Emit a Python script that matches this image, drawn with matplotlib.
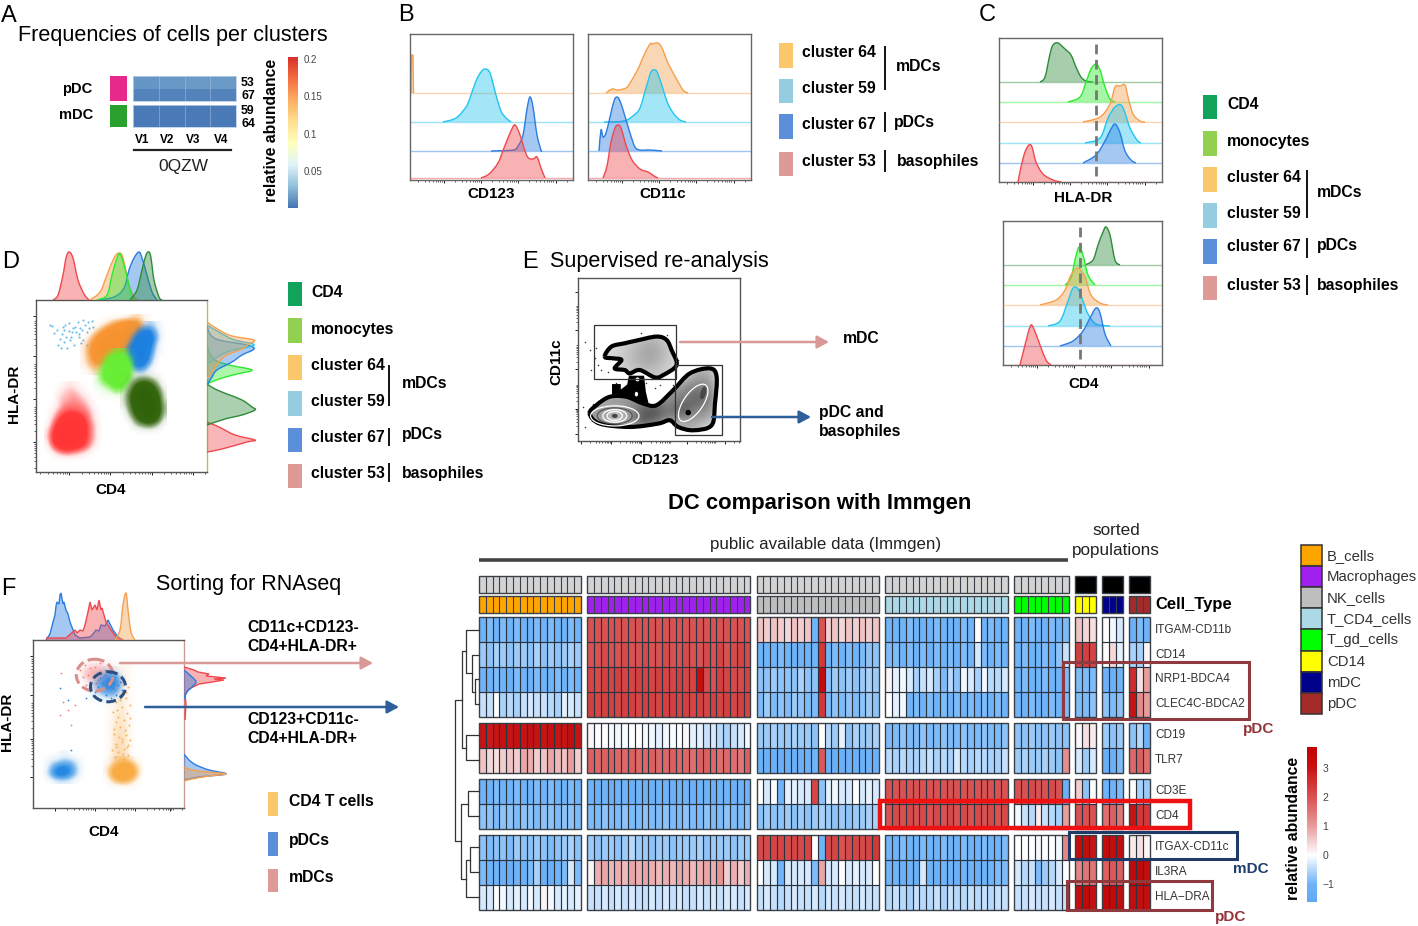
import numpy as np
import matplotlib
matplotlib.use("Agg")
import matplotlib.pyplot as plt
from matplotlib.colors import LinearSegmentedColormap, Normalize, to_rgba
from matplotlib.cm import ScalarMappable
from matplotlib.patches import Ellipse, Polygon, Rectangle, PathPatch
from matplotlib.path import Path

plt.rcParams['font.family'] = ['Liberation Sans', 'DejaVu Sans']
W, H = 1418, 926
fig = plt.figure(figsize=(W / 100, H / 100), dpi=100)

# ---------- Panel A data
a_rows = ['53', '67', '59', '64']
a_cols = ['V1', 'V2', 'V3', 'V4']
a_pdc = [[0.013, 0.014, 0.015, 0.015], [0.006, 0.006, 0.006, 0.006]]
a_mdc = [[0.003, 0.003, 0.003, 0.003], [0.002, 0.002, 0.002, 0.002]]

# ---------- Histograms (x, height)
o1x = [1, 1.5, 3, 3.5]; o1h = [0, 38, 38, 0]
lb1x = [33, 46, 56, 60, 66, 71, 75, 80, 86, 91, 96, 101]; lb1h = [0, 4, 15, 24, 41, 50, 53, 49, 27, 11, 4, 0]
bl1x = [81, 103, 108, 113, 117, 120, 123, 127, 131, 132]; bl1h = [0, 1, 5, 16, 42, 54, 44, 16, 1, 0]
rd1x = [71, 79, 88, 94, 101, 105, 110, 117, 123, 127, 131, 135]; rd1h = [0, 4, 15, 30, 47, 53, 43, 22, 19, 21, 10, 0]

o2x = [18, 24, 30, 38, 42, 50, 56, 62, 64, 70, 74, 80, 88, 95, 100]; o2h = [0, 4, 3, 5, 10, 24, 38, 49, 49, 50, 45, 30, 15, 3, 0]
lb2x = [16, 36, 46, 52, 58, 63, 67, 70, 75, 80, 86, 92, 98]; lb2h = [0, 1, 7, 14, 34, 50, 52, 48, 33, 18, 8, 2, 0]
bl2x = [11, 13, 15, 18, 22, 26, 29, 32, 36, 42, 47, 52, 62, 74]; bl2h = [0, 21, 14, 18, 34, 50, 54, 50, 38, 18, 4, 1, 1, 0]
rd2x = [15, 19, 23, 27, 30, 33, 38, 44, 52, 60, 66, 70]; rd2h = [0, 12, 36, 50, 53, 50, 33, 18, 9, 6, 2, 0]

cdg1x = [41, 46, 51, 54, 59, 66, 72, 77, 82, 87, 94]; cdg1h = [0, 5, 28, 37, 39, 33, 27, 15, 5, 1, 0]
cg1x = [69, 81, 87, 92, 97, 101, 106, 111, 116]; cg1h = [0, 5, 20, 33, 38, 32, 15, 3, 0]
co1x = [84, 101, 111, 116, 121, 126, 129, 134, 141, 146]; co1h = [0, 5, 18, 35, 36, 37, 25, 8, 1, 0]
clb1x = [86, 101, 109, 116, 122, 126, 131, 138, 142]; clb1h = [0, 5, 25, 36, 38, 30, 15, 3, 0]
cbl1x = [84, 97, 106, 111, 116, 121, 126, 132, 137]; cbl1h = [0, 8, 22, 32, 39, 30, 12, 3, 0]
crd1x = [19, 22, 26, 30, 33, 37, 44, 54, 62]; crd1h = [0, 15, 30, 37, 35, 20, 8, 2, 0]

cdg2x = [82, 90, 95, 100, 103, 107, 112, 117]; cdg2h = [0, 5, 20, 33, 38, 30, 5, 0]
cg2x = [62, 68, 72, 76, 80, 85, 92]; cg2h = [0, 7, 25, 38, 30, 10, 0]
co2x = [37, 53, 62, 68, 75, 82, 88, 97, 105]; co2h = [0, 5, 15, 30, 37, 28, 10, 2, 0]
clb2x = [45, 57, 65, 70, 75, 80, 85, 93, 107]; clb2h = [0, 5, 25, 38, 37, 25, 12, 2, 0]
cbl2x = [57, 70, 80, 87, 93, 97, 102, 108]; cbl2h = [0, 5, 15, 28, 38, 33, 12, 0]
crd2x = [17, 22, 27, 30, 37, 43, 48]; crd2h = [0, 20, 38, 38, 20, 5, 0]

# Panel D marginals
dt_rdx = [17, 22, 27, 30, 33, 37, 42, 48, 53]; dt_rdh = [0, 5, 25, 42, 48, 42, 20, 6, 0]
dt_ox = [54, 64, 71, 78, 83, 87, 93, 98, 103]; dt_oh = [0, 8, 25, 42, 47, 42, 15, 3, 0]
dt_gx = [61, 71, 76, 81, 84, 88, 93, 96, 99]; dt_gh = [0, 5, 25, 42, 46, 35, 15, 3, 0]
dt_bx = [61, 78, 88, 93, 98, 103, 106, 111, 116, 121]; dt_bh = [0, 3, 12, 30, 42, 48, 42, 25, 8, 0]
dt_dx = [94, 101, 106, 110, 113, 115, 118, 123, 126]; dt_dh = [0, 10, 30, 45, 48, 42, 20, 3, 0]
dr_ry = [20, 23, 30, 32, 37, 45, 50]; dr_rh = [0, 15, 40, 48, 28, 12, 0]
dr_dy = [47, 53, 57, 62, 65, 72, 78, 83, 88]; dr_dh = [0, 18, 35, 48, 45, 35, 20, 8, 0]
dr_gy = [88, 93, 98, 102, 107, 112, 120, 127]; dr_gh = [0, 12, 30, 45, 22, 8, 2, 0]
dr_by = [87, 95, 102, 110, 117, 123, 127, 132, 138, 147]; dr_bh = [0, 5, 10, 25, 35, 47, 40, 12, 3, 0]
dr_ly = [108, 120, 127, 133, 147]; dr_lh = [0, 20, 47, 25, 0]
dr_oy = [93, 110, 117, 123, 128, 132, 136, 142, 150]; dr_oh = [0, 12, 20, 35, 42, 47, 25, 12, 0]

# Panel F marginals
ft_bx = [13, 17, 18, 20, 22, 23, 24, 26, 27, 28, 30, 31, 33, 35, 37, 42, 47, 57, 60, 63, 66, 68, 72, 75, 78, 80, 85, 90]
ft_bh = [0, 6, 10, 18, 25, 34, 38, 36, 45, 47, 36, 38, 30, 26, 18, 5, 2, 3, 6, 10, 9, 15, 14, 20, 14, 10, 3, 0]
ft_rx = [13, 33, 42, 44, 47, 50, 52, 55, 57, 59, 62, 64, 66, 68, 69, 73, 78, 83, 90]
ft_rh = [2, 2, 10, 7, 10, 9, 15, 28, 38, 30, 35, 30, 40, 30, 32, 18, 10, 3, 0]
ft_ox = [82, 87, 90, 93, 95, 98, 102]; ft_oh = [0, 10, 35, 47, 30, 8, 0]
fr_ry = [88, 104, 114, 119, 124, 126, 128, 129, 130, 132, 134, 136, 138, 141]; fr_rh = [1, 2, 1, 5, 15, 28, 40, 30, 42, 22, 25, 14, 10, 0]
fr_by = [109, 116, 121, 126, 131, 138]; fr_bh = [0, 3, 8, 12, 8, 0]
fr_oy = [27, 29, 32, 34, 36, 38, 41]; fr_oh = [0, 8, 25, 42, 25, 8, 0]
fr_cy = [28, 31, 34, 38, 43, 48, 54]; fr_ch = [0, 15, 42, 25, 12, 5, 0]

# ---------- Density grids of the scatter clouds, read by eye (0 empty .. 10 solid)
d_red_xs, d_red_ys = (140, 300), (420, 640)
d_red = [[0, 0, 0, 1, 1, 0, 0, 0, 0], [0, 0, 1, 2, 2, 1, 0, 0, 0], [0, 0, 2, 2, 3, 2, 1, 0, 0], [0, 0, 2, 3, 3, 3, 2, 0, 0],
         [0, 1, 3, 5, 5, 4, 3, 1, 0], [0, 2, 6, 8, 8, 7, 4, 1, 0], [0, 4, 9, 10, 10, 9, 5, 2, 0], [1, 6, 10, 10, 10, 9, 5, 2, 0],
         [1, 7, 10, 10, 10, 9, 5, 2, 0], [0, 5, 9, 10, 9, 7, 4, 1, 0], [0, 1, 3, 4, 3, 2, 1, 0, 0], [0, 0, 0, 0, 0, 0, 0, 0, 0]]
d_dark_xs, d_dark_ys = (370, 490), (380, 560)
d_dark = [[0, 0, 0, 0, 0, 0, 0], [0, 1, 2, 3, 2, 1, 0], [0, 2, 6, 8, 7, 3, 0], [1, 4, 9, 10, 9, 6, 1], [1, 5, 10, 10, 10, 8, 1],
          [1, 4, 9, 10, 10, 9, 2], [0, 3, 8, 10, 10, 9, 2], [0, 1, 5, 9, 10, 7, 1], [0, 0, 2, 3, 4, 2, 0], [0, 0, 0, 0, 0, 0, 0]]
d_blue_xs, d_blue_ys = (370, 490), (240, 400)
d_blue = [[0, 0, 0, 1, 2, 1, 0], [0, 0, 2, 6, 6, 2, 0], [0, 1, 6, 10, 8, 3, 0], [0, 3, 9, 10, 7, 1, 0], [1, 6, 10, 10, 5, 1, 0],
          [1, 7, 10, 9, 4, 0, 0], [0, 3, 7, 6, 2, 0, 0], [0, 1, 2, 2, 0, 0, 0], [0, 0, 0, 0, 0, 0, 0]]
d_orange_xs, d_orange_ys = (250, 450), (220, 380)
d_orange = [[0, 0, 0, 0, 0, 0, 0, 1, 2, 1, 0], [0, 0, 0, 1, 3, 6, 8, 9, 7, 2, 0], [0, 0, 2, 5, 9, 10, 10, 10, 8, 2, 0],
            [0, 2, 6, 10, 10, 10, 10, 10, 6, 1, 0], [1, 4, 9, 10, 10, 10, 10, 8, 3, 0, 0], [1, 5, 10, 10, 10, 9, 7, 4, 1, 0, 0],
            [1, 4, 8, 9, 7, 4, 2, 1, 0, 0, 0], [1, 3, 5, 4, 2, 1, 0, 0, 0, 0, 0], [0, 1, 2, 1, 0, 0, 0, 0, 0, 0, 0]]
d_green_xs, d_green_ys = (290, 410), (320, 460)
d_green = [[0, 0, 1, 3, 3, 1, 0], [0, 1, 6, 9, 9, 3, 0], [0, 3, 9, 10, 10, 5, 0], [1, 5, 10, 10, 10, 5, 0], [1, 5, 9, 10, 10, 4, 0],
           [1, 2, 4, 8, 6, 1, 0], [0, 1, 1, 3, 2, 0, 0], [0, 0, 0, 0, 0, 0, 0]]
d_sparse_x = [155, 170, 185, 195, 205, 215, 225, 235, 245, 255, 265, 275, 160, 178, 192, 208, 222, 238, 250, 262, 172, 188, 200, 218, 232, 248, 268, 182, 196, 212, 228, 244, 190, 205, 240, 280, 150, 260]
d_sparse_y = [242, 255, 268, 240, 258, 262, 246, 268, 255, 240, 232, 228, 265, 283, 290, 285, 300, 275, 285, 262, 300, 245, 310, 250, 232, 225, 250, 310, 275, 275, 262, 295, 255, 235, 250, 245, 240, 300]

f_lowb_xs, f_lowb_ys = (130, 250), (550, 630)
f_lowb = [[0, 0, 0, 1, 0, 0, 0], [0, 1, 1, 2, 2, 1, 0], [0, 2, 5, 6, 5, 2, 0], [0, 3, 7, 8, 5, 2, 0], [0, 0, 1, 1, 1, 0, 0]]
f_lowo_xs, f_lowo_ys = (320, 420), (570, 650)
f_lowo = [[0, 1, 2, 2, 1, 0], [1, 3, 7, 9, 5, 1], [1, 7, 10, 10, 8, 1], [0, 3, 6, 6, 3, 0], [0, 0, 0, 0, 0, 0]]
f_topb_xs, f_topb_ys = (260, 380), (300, 400)
f_topb = [[0, 0, 0, 1, 1, 0, 0], [0, 0, 2, 4, 5, 2, 0], [0, 2, 4, 6, 7, 3, 0], [0, 1, 3, 5, 5, 2, 0], [0, 1, 1, 2, 2, 1, 0], [0, 0, 0, 0, 0, 0, 0]]
f_topr_xs, f_topr_ys = (220, 360), (280, 360)
f_topr = [[0, 0, 1, 1, 1, 1, 0, 0], [0, 1, 2, 3, 3, 2, 1, 0], [0, 1, 3, 3, 3, 3, 1, 0], [0, 0, 1, 2, 2, 2, 1, 0], [0, 0, 0, 1, 1, 0, 0, 0]]
f_col_xs, f_col_ys = (320, 400), (320, 560)
f_col = [[0, 0, 1, 1, 0], [0, 1, 2, 1, 0], [0, 2, 2, 2, 0], [0, 2, 3, 2, 0]]
f_orange_x = [352, 370, 345, 385, 360, 378, 350, 390, 368, 340, 382, 355, 372, 348, 388, 362, 376, 344, 380, 358, 392, 366, 350, 386, 374, 338, 356, 370, 384, 346, 364, 378, 352, 390, 342, 368, 382, 360, 348, 374]
f_orange_y = [330, 345, 360, 350, 375, 385, 395, 405, 410, 425, 430, 440, 450, 455, 465, 470, 480, 490, 495, 500, 510, 515, 520, 525, 535, 540, 545, 550, 555, 560, 335, 365, 420, 445, 475, 505, 530, 390, 530, 565]
f_red_x = [240, 255, 270, 285, 300, 315, 330, 345, 250, 265, 280, 295, 310, 325, 260, 275, 290, 305, 235, 350, 185, 180, 225, 205, 215, 190]
f_red_y = [300, 285, 295, 290, 280, 300, 295, 310, 320, 315, 325, 330, 320, 325, 345, 350, 340, 360, 335, 340, 310, 435, 405, 420, 465, 395]
f_blue_x = [270, 285, 300, 315, 330, 345, 360, 295, 310, 325, 340, 355, 280, 320, 335, 350, 305, 368, 260, 180, 205, 215]
f_blue_y = [345, 365, 325, 315, 310, 320, 335, 350, 340, 345, 355, 345, 375, 375, 385, 375, 390, 360, 385, 355, 390, 540]
f_gate_pink = (285, 315, 110, 95)
f_gate_navy = (325, 350, 105, 90)

e_sparse_x = [165, 180, 195, 205, 215, 185, 200, 225, 350, 375, 390, 335, 160, 175, 190, 260, 215, 235, 370, 410, 430, 445, 135, 165]
e_sparse_y = [215, 240, 265, 285, 300, 300, 235, 245, 340, 355, 345, 190, 410, 430, 400, 340, 390, 305, 195, 195, 345, 270, 470, 470]
e_low_xs, e_low_ys = (180, 580), (300, 480)
e_low = [[1, 1, 1, 1, 1, 1, 1, 1, .7, .7, 1], [1, 1, 1, 1, 1, 1, 1, .7, .6, .6, 1], [1, 1, 1, 1, 1, 1, .6, .55, .45, .5, 1],
         [1, .6, .5, .5, .6, .6, .55, .5, .35, .45, 1], [.6, .6, .8, .6, .35, .3, .5, .25, .55, .55, 1],
         [.6, .6, .8, .6, .3, .4, .6, .6, .65, .65, 1], [1, .7, .7, .7, .6, .7, 1, .7, .7, 1, 1]]
e_top_xs, e_top_ys = (240, 440), (200, 320)
e_top = [[.9, .85, .8, .75, .8, .9], [.85, .8, .7, .6, .7, .85], [.85, .8, .7, .65, .75, .85], [.85, .85, .8, .8, .8, .9]]

# ---------- Heatmap
hm_genes = ['ITGAM-CD11b', 'CD14', 'NRP1-BDCA4', 'CLEC4C-BDCA2', 'CD19', 'TLR7', 'CD3E', 'CD4', 'ITGAX-CD11c', 'IL3RA', 'HLA\u2212DRA']
hm_bcells = [
 [-1.0, -.9, -1.0, -.9, -1.0, -.9, -1.0, -1.0, -.9, -1.0, -.9, -1.0, -1.0, -.9, -1.0],
 [-.7, -.8, -.6, -.7, -.8, -.7, -.7, -.8, -.6, -.8, -.7, -.8, -.7, -.6, -.7],
 [-1.0, -1.0, -.9, -1.0, -1.1, -.9, -1.0, -1.0, -.9, -1.0, -1.0, -.9, -1.0, -.9, -1.0],
 [-.4, -.4, 0, -.6, -.5, -.6, -.4, -.3, -.4, -.4, -.5, -.6, -.2, -.3, -.4],
 [3.0, 2.9, 3.0, 3.1, 3.0, 3.1, 3.0, 3.1, 3.0, 3.0, 3.1, 3.0, 3.0, 3.2, 3.0],
 [.6, .4, .3, .5, .6, .5, .9, .8, .5, .6, .9, .7, .6, 1.0, .5],
 [-1.0, -1.0, -.9, -1.0, -1.0, -.9, -1.0, -1.0, -.9, -1.0, -.9, -1.0, -1.0, -.9, -1.0],
 [-.8, -.8, -.9, -.8, -.8, -.9, -.8, -.8, -.9, -.8, -.8, -.9, -.8, -.8, -.9],
 [-.8, -.9, -.8, -.8, -.9, -.7, -.8, -.8, -.7, -.8, -.9, -.8, -.7, -.6, -.8],
 [-.9, -1.0, -1.0, -1.1, -1.2, -1.0, -1.1, -.9, -.6, -1.1, -1.2, -1.0, -.9, -.3, -.9],
 [-.3, -.3, 0, -.1, -.3, -.2, -.3, -.1, -.3, .1, -.1, -.3, -.2, -.3, -.2],
]
hm_macro = [
 [2.0] * 24,
 [2.0, 2.0, 2.1, 2.0, 2.0, 2.1, 2.0, 2.0, 2.1, 2.0, 2.0, 2.1, 2.0, 2.0, 2.1, 2.0, 2.0, 2.1, 2.0, 2.2, 2.0, 2.1, 2.2, 2.1],
 [2.2, 2.1, 2.3, 2.2, 2.3, 2.2, 2.2, 2.3, 2.2, 2.2, 2.3, 2.2, 2.2, 2.3, 2.2, 2.2, 3.2, 2.1, 2.0, 2.3, 2.2, 2.1, 2.1, 2.2],
 [2.3, 2.2, 2.3, 2.3, 2.2, 2.3, 2.3, 2.2, 2.3, 2.3, 2.2, 2.3, 2.3, 2.2, 2.3, 2.2, 2.3, 2.2, 2.3, 2.2, 2.3, 2.2, 2.3, 2.2],
 [.1, 0, 0, .05, -.1, -.05, 0, 0, .05, -.1, -.2, -.1, -.05, 0, .05, -.2, -.2, -.4, -.3, -.5, -.6, -.4, -.3, -.1],
 [1.8, 1.7, 1.8, 1.8, 1.7, 1.7, 1.8, 1.7, 1.7, 1.8, 1.7, 1.7, 1.8, 1.7, 1.7, 1.6, 1.8, 1.8, 1.7, 1.6, 1.7, 1.6, 1.5, 1.8],
 [-1.0, -1.1, -1.0, -1.1, -1.0, -1.0, -1.1, -1.0, -1.0, -1.1, -1.0, -1.0, -1.1, -1.0, -1.0, -1.1, -1.0, -1.0, -1.1, -1.0, -1.0, -1.1, -1.0, -1.0],
 [-.9, -.9, -.8, -.9, -.9, -.8, -.9, -.9, -.8, -.9, -.9, -.8, -.9, -.9, -.8, -.9, -.9, -.8, -.9, -.9, -.8, -.9, -.9, -.8],
 [-.7, -.8, -.7, -.7, -.8, -.7, -.5, -.7, -.7, -.8, -.7, -.7, -.8, -.7, -.7, -.7, -.6, -.8, -.7, -.7, -.7, -.8, -.7, -.7],
 [.1, .8, .9, .7, .8, .7, .9, .8, .9, .8, .7, .8, .7, .9, .8, .7, .8, .9, .8, 1.1, .5, .8, .5, .8],
 [-.4, -.4, -.3, -.4, -.3, -.4, -.3, -.4, -.4, -.3, -.4, -.3, -.4, -.3, -.4, -.4, -.3, -.4, -.3, -.4, -.3, -.3, -.4, -.3],
]
hm_nk = [
 [.6, .5, .6, .5, .4, .6, .5, .6, -1.0, 2.0, .5, .6, .4, .6, .5, .6, .5, .6],
 [-1.0, -1.0, -1.0, -.9, -1.0, -1.0, -1.0, -1.0, -1.0, 2.4, -1.0, -.9, -1.0, -.9, -1.0, -.9, -.8, -.8],
 [-.8, -.8, -.7, -.8, -.8, -.8, -.6, -.8, -.8, 3.3, -.8, -.7, -.8, -.7, -.8, -.7, -.6, -.7],
 [-.9, -.7, -.9, -.8, -.9, -.7, -.8, -.9, -.9, 2.4, -.9, -.8, -.9, -.8, -.9, -.8, -.7, -.8],
 [-.7, -.7, -.6, -.7, -.7, -.6, -.7, -.7, -.8, 0, -.5, -.7, -.2, -.8, -.6, -.7, -.7, -.6],
 [-1.1, -1.1, -1.1, -1.2, -1.2, -1.1, -1.1, -1.1, -1.0, 1.9, -1.1, -1.2, -1.1, -1.1, -1.2, -1.1, -1.0, -1.1],
 [0, -.3, 0, -1.0, -.2, -.2, -.3, -.3, 2.2, -.8, -.2, -.1, -.3, -.3, 0, -.3, -.2, -.3],
 [-.8, -.7, -.8, -.8, -.7, -.8, -.7, -.8, -.7, -.6, -.7, -.8, -.7, -.8, -.7, -.7, -.6, -.6],
 [2.1, 2.1, 2.2, 2.2, 2.1, 2.2, 2.1, 2.2, 0, -1.0, 2.1, 2.2, 2.0, 2.1, 2.2, 2.1, 2.2, 2.4],
 [0, -.3, -.3, -1.0, -.3, -.3, -.3, -.3, -.9, .9, -.3, -.3, 0, -.3, -.2, -.3, -.3, 0],
 [-.4, -.3, -.4, -.5, -.4, -.3, -.4, -.4, -.3, -.5, -.3, -.4, -.3, -.4, -.4, -.3, -.4, -.4],
]
hm_tcd4 = [
 [-1.0, -1.0, -1.0, -.9, -1.0, -1.0, -1.0, -.9, -1.0, -1.0, -1.0, -.9, -1.0, 0, -1.0, -.9, -1.0, -1.0],
 [-.9, -.9, -1.0, -.9, -1.0, -.9, -1.0, -.9, -1.0, -.9, -1.0, -.9, -1.0, -.3, -.9, -1.0, -.9, -1.0],
 [.1, -.2, -.1, -.3, -.6, -.4, -.3, -.6, -.9, -.5, -.8, -.1, -.3, -.6, -.1, -.5, -.5, -.3],
 [0, -.2, -.1, -1.0, -.9, -1.0, -.9, -1.0, -.9, -1.0, -.9, -1.0, -.9, -1.0, -.9, -1.0, -.9, -1.0],
 [-.9, -.9, -.8, -.9, -.9, -.8, -.9, -.9, -.8, -.9, -.9, -.8, -.9, -.9, -.8, -.9, -.9, -.8],
 [-.5, -.6, -.5, -.6, -.6, -.5, -.4, -.6, -.5, -.6, -.3, -.5, -.6, -.5, -.5, -.6, -.6, -.4],
 [2.0] * 18,
 [2.0, 2.1, 2.0, 2.1, 2.0, 2.1, 2.0, 2.1, 2.0, 2.1, 2.0, 2.1, 2.0, 2.1, 2.0, 2.1, 2.0, 2.1],
 [-1.0, -1.0, -.9, -1.0, -1.0, -.9, -1.0, -1.0, -.9, -1.0, -1.0, -.9, -1.0, -1.0, -.9, -1.0, -1.0, -.9],
 [-1.0, -1.0, -1.1, -1.0, -1.1, -.3, -1.0, -1.1, -1.0, -1.0, -1.1, -1.0, -1.0, -1.1, -1.0, -1.0, -.9, -.9],
 [-.5, -.4, -.5, -.6, -.4, -.5, -.5, -.4, -.6, -.4, -.5, -.5, -.4, -.5, -.4, -.5, -.4, -.4],
]
hm_tgd = [
 [-1.0, -1.0, -.9, -1.0, -1.0, -.9, -1.0, -.9],
 [-1.0, -.9, -1.0, -1.0, -.9, -1.0, -.8, -.4],
 [-1.0, -.9, -1.0, -1.0, -.9, -1.0, -1.0, -.9],
 [-1.0, -1.0, -.9, -1.0, -1.0, -.9, -1.0, -.9],
 [-.8, -.8, -.7, -.8, -.8, -.7, -.8, -.8],
 [-.7, -.6, -.7, -.7, -.6, -.7, -.8, 1.2],
 [2.0, 2.0, 2.1, 2.0, 2.0, 2.1, 2.0, -1.1],
 [-.1, -.4, -.5, .2, -.4, -.5, -.6, 1.0],
 [0, 0, 0, -.1, 0, 0, -.1, 1.3],
 [-.3, -.5, -.4, -.9, -.7, -.5, -.3, 0],
 [-.4, -.4, -.3, -.4, -.4, -.3, -.4, -.4],
]
hm_cd14 = [[.6, .4, .3], [2.3, 2.3, 2.2], [-.9, -.9, -.9], [-.9, -.9, -.8], [.1, .3, .2], [-.3, -.7, -.3],
           [.5, -.8, 0], [2.0, 2.0, 2.0], [3.2, 3.2, 3.0], [1.3, 1.5, 1.5], [3.2, 3.4, 3.1]]
hm_mdc = [[0, -.1, -.3], [0, .4, -.2], [-1.1, -1.1, -1.0], [-.8, -.9, -.8], [-.7, -.8, -.7], [-1.2, -1.1, -.9],
          [-1.0, -1.0, -.9], [1.6, 1.8, 1.5], [3.3, 3.2, 3.2], [1.8, 1.9, 1.8], [3.4, 3.4, 3.3]]
hm_pdc = [[-1.1, -.9, -1.0], [-.6, -.6, .1], [2.6, .3, 1.0], [3.0, 1.2, 1.0], [-.8, -.5, -1.0], [1.7, 1.8, 1.6],
          [0, -.6, -.7], [3.0, 2.4, 2.4], [.2, .3, .1], [3.4, 3.4, 3.3], [3.3, 3.2, 3.2]]
hm_groups = [hm_bcells, hm_macro, hm_nk, hm_tcd4, hm_tgd, hm_cd14, hm_mdc, hm_pdc]
cell_types = ['B_cells', 'Macrophages', 'NK_cells', 'T_CD4_cells', 'T_gd_cells', 'CD14', 'mDC', 'pDC']

# ---------- Styles and layout (pixels)
C = dict(o='#f5a04e', lb='#22c4f0', b='#2a7de1', r='#f0484e', dk='#2e8b3a', g='#2eea2e')
cell_colors = ['#ffa500', '#a020f0', '#bebebe', '#add8e6', '#00ff00', '#ffff00', '#00008b', '#a52a2a']
group_x = [(479, 581), (587.3, 750.3), (756.7, 879), (885.3, 1007.7), (1014, 1068.7), (1075, 1095.7), (1102, 1123), (1129, 1150)]
block_y = [(617.3, 716.7), (722.7, 772.7), (779, 828.7), (835, 909.7)]
block_rows = [(0, 4), (4, 6), (6, 8), (8, 11)]
SW_O, SW_LB, SW_B, SW_R = '#fbc76b', '#93cddf', '#5b8fd9', '#de9a96'


def panel(x0, y0, x1, y1, xlim=None, ylim=None, edge='#666666'):
    ax = fig.add_axes([x0 / W, 1 - y1 / H, (x1 - x0) / W, (y1 - y0) / H])
    ax.set_xlim(xlim if xlim else (0, x1 - x0))
    ax.set_ylim(ylim if ylim else (0, y1 - y0))
    ax.set_xticks([]); ax.set_yticks([])
    for s in ax.spines.values():
        s.set_color(edge); s.set_linewidth(1.0)
    return ax


def log_ticks(ax, decades, axis='x'):
    major = list(decades)
    step = decades[1] - decades[0]
    minor = [d + np.log10(k) * step for d in decades[:-1] for k in range(2, 10)]
    a = ax.xaxis if axis == 'x' else ax.yaxis
    lo, hi = sorted(ax.get_xlim() if axis == 'x' else ax.get_ylim())
    a.set_ticks([v for v in major if lo <= v <= hi])
    a.set_ticks([v for v in minor if lo <= v <= hi], minor=True)
    ax.tick_params(axis=axis, which='major', length=2.5, width=.7, color='#222222', labelbottom=False, labelleft=False)
    ax.tick_params(axis=axis, which='minor', length=1.5, width=.5, color='#222222', labelbottom=False, labelleft=False)


def curve(pts, closed=False):
    pts = np.asarray(pts, float)
    n = len(pts)
    verts, codes = [pts[0]], [Path.MOVETO]
    for i in range(n if closed else n - 1):
        if closed:
            p0, p1, p2, p3 = pts[(i - 1) % n], pts[i], pts[(i + 1) % n], pts[(i + 2) % n]
        else:
            p0, p1, p2, p3 = pts[max(i - 1, 0)], pts[i], pts[i + 1], pts[min(i + 2, n - 1)]
        verts += [p1 + (p2 - p0) / 6, p2 - (p3 - p1) / 6, p2]
        codes += [Path.CURVE4] * 3
    return verts, codes


def ridge(ax, x, h, base, color, z, width=None, alpha=.42, smooth=True, vertical=False):
    pts = np.column_stack([x, np.array(h, float) + base])
    if width:
        ax.plot([0, width], [base, base], color=color, lw=1.0, alpha=.45, zorder=z)
    if smooth:
        v, c = curve(pts)
    else:
        v, c = list(pts), [Path.MOVETO] + [Path.LINETO] * (len(pts) - 1)
    v = np.array(v)
    if vertical:
        v = v[:, ::-1]
    close_a = (base, x[-1]) if vertical else (x[-1], base)
    close_b = (base, x[0]) if vertical else (x[0], base)
    vf = np.vstack([v, close_a, close_b, v[0]])
    cf = c + [Path.LINETO, Path.LINETO, Path.CLOSEPOLY]
    ax.add_patch(PathPatch(Path(vf, cf), fc=color, alpha=alpha, lw=0, zorder=z))
    ax.add_patch(PathPatch(Path(v, c), fc='none', ec=color, lw=1.0, zorder=z + .1))


def density(ax, grid, xs, ys, color, z, top=10, clip=None):
    g = np.array(grid, float)
    ny, nx = g.shape
    dx, dy = (xs[1] - xs[0]) / (nx - 1), (ys[1] - ys[0]) / (ny - 1)
    r, gg, b, _ = to_rgba(color)
    cm = LinearSegmentedColormap.from_list('d', [(0, (r, gg, b, 0)), (.12, (r, gg, b, .12)), (.3, (r, gg, b, .6)), (.55, (r, gg, b, .97)), (1, (r, gg, b, 1))])
    im = ax.imshow(g, extent=(xs[0] - dx / 2, xs[1] + dx / 2, ys[1] + dy / 2, ys[0] - dy / 2), origin='upper', cmap=cm,
                   vmin=0, vmax=top, interpolation='bicubic', aspect='auto', zorder=z)
    im.set_interpolation_stage('data')
    return im


# ---------- A: heatmap
cmA = LinearSegmentedColormap.from_list('a', ['#4575b4', '#91bfdb', '#e0f3f8', '#ffffbf', '#fee090', '#fdae61', '#f46d43', '#d73027'])
normA = Normalize(0, .2027)
for vals, y0, y1 in ((a_pdc, 76, 101), (a_mdc, 105, 127)):
    ax = panel(133, y0, 236, y1, xlim=(0, 4), ylim=(2, 0))
    ax.pcolormesh(np.array(vals), cmap=cmA, norm=normA, edgecolors='face', linewidth=0)
    ax.vlines([1, 2, 3], 0, 2, color='#a9c4e2', lw=.5, alpha=.7)
    for s in ax.spines.values():
        s.set_color('#b8cfe8'); s.set_linewidth(.6)
caxA = fig.add_axes([288 / W, 1 - 208 / H, 10 / W, 151 / H])
cbA = fig.colorbar(ScalarMappable(normA, cmA), cax=caxA, ticks=[.05, .1, .15, .2])
cbA.ax.set_yticklabels(['0.05', '0.1', '0.15', '0.2'], fontsize=7, color='#444444')
cbA.ax.tick_params(length=0, pad=4)
cbA.outline.set_visible(False)

# ---------- B
baseB = [87, 58, 29, 2]
axB1 = panel(410, 34, 573, 180)
for (x, h), b, c, z, s in zip([(o1x, o1h), (lb1x, lb1h), (bl1x, bl1h), (rd1x, rd1h)], baseB, ('o', 'lb', 'b', 'r'), (1, 2, 3, 4), (False, True, True, True)):
    ridge(axB1, x, h, b, C[c], z, 163, smooth=s)
log_ticks(axB1, [-3, 34, 71, 108, 146, 183])
axB2 = panel(588, 34, 751, 180)
for (x, h), b, c, z in zip([(o2x, o2h), (lb2x, lb2h), (bl2x, bl2h), (rd2x, rd2h)], baseB, ('o', 'lb', 'b', 'r'), (1, 2, 3, 4)):
    ridge(axB2, x, h, b, C[c], z, 163)
log_ticks(axB2, [-3, 34, 71, 108, 146, 183])

# ---------- C
baseC = [100, 80, 60, 39, 19, 0]
c_cols = ('dk', 'g', 'o', 'lb', 'b', 'r')
axC1 = panel(999, 38, 1162, 182)
for (x, h), b, c, z in zip([(cdg1x, cdg1h), (cg1x, cg1h), (co1x, co1h), (clb1x, clb1h), (cbl1x, cbl1h), (crd1x, crd1h)], baseC, c_cols, range(1, 7)):
    ridge(axC1, x, h, b, C[c], z, 163)
axC1.axvline(97, ymin=.04, color='#777777', lw=2, ls=(0, (3.5, 2)), zorder=8)
log_ticks(axC1, [-3, 34, 71, 108, 146, 183])
axC2 = panel(1003, 221, 1162, 365)
for (x, h), b, c, z in zip([(cdg2x, cdg2h), (cg2x, cg2h), (co2x, co2h), (clb2x, clb2h), (cbl2x, cbl2h), (crd2x, crd2h)], baseC, c_cols, range(1, 7)):
    ridge(axC2, x, h, b, C[c], z, 159)
axC2.axvline(77, ymin=.04, color='#777777', lw=2, ls=(0, (3.5, 2)), zorder=8)
log_ticks(axC2, [-3, 34, 71, 108, 146])

# ---------- D
D_LIM = ((107, 622), (680, 165))
axD = panel(36, 300, 207, 472, xlim=D_LIM[0], ylim=D_LIM[1], edge='#555555')
axD.spines['right'].set_color('#99cc66')
axD.scatter(d_sparse_x, d_sparse_y, s=2.4, color='#6dbcec', lw=0, zorder=1)
density(axD, d_orange, d_orange_xs, d_orange_ys, '#f7932e', 2)
density(axD, d_blue, d_blue_xs, d_blue_ys, '#1a7fe0', 3)
density(axD, d_green, d_green_xs, d_green_ys, '#66ee33', 4)
density(axD, d_dark, d_dark_xs, d_dark_ys, '#2f6208', 5)
density(axD, d_red, d_red_xs, d_red_ys, '#ff3333', 6)
axD.set_xlim(*D_LIM[0]); axD.set_ylim(*D_LIM[1])
log_ticks(axD, [83, 207, 331, 455, 579, 703])
log_ticks(axD, [700, 590, 462, 334, 213], axis='y')
axDt = panel(36, 248, 207, 300, ylim=(0, 52))
axDt.axis('off')
for x, h, c, z in ((dt_rdx, dt_rdh, 'r', 1), (dt_ox, dt_oh, 'o', 2), (dt_bx, dt_bh, 'b', 3), (dt_gx, dt_gh, 'g', 4), (dt_dx, dt_dh, 'dk', 5)):
    ridge(axDt, x, h, 0, C[c], z)
axDr = panel(207, 300, 257, 472, xlim=(0, 50))
axDr.axis('off')
for y, h, c, z in ((dr_ry, dr_rh, 'r', 1), (dr_dy, dr_dh, 'dk', 2), (dr_gy, dr_gh, 'g', 3), (dr_by, dr_bh, 'b', 4), (dr_ly, dr_lh, 'lb', 5), (dr_oy, dr_oh, 'o', 6)):
    ridge(axDr, y, h, 0, C[c], z, vertical=True, alpha=.4)

# ---------- E
E_LIM = ((145, 630), (512, 25))
axE = panel(578, 278, 740, 441, xlim=E_LIM[0], ylim=E_LIM[1], edge='#555555')
axE.scatter(e_sparse_x, e_sparse_y, s=1.2, color='#333333', lw=0, zorder=1)
e_top_poly = [(225, 260), (245, 230), (285, 220), (320, 212), (380, 200), (410, 210), (425, 240), (440, 285), (400, 315), (375, 322), (330, 300), (300, 310), (285, 300), (255, 295), (275, 270), (250, 265)]
e_low_poly = [(180, 430), (200, 405), (240, 380), (290, 380), (340, 400), (380, 405), (430, 360), (480, 310), (540, 295), (560, 320), (555, 400), (545, 465), (490, 480), (445, 470), (420, 450), (385, 460), (300, 470), (210, 460)]
e_bridge = [(250, 345), (270, 345), (270, 365), (295, 345), (300, 320), (340, 320), (345, 365), (352, 395), (310, 385), (250, 375)]
axE.add_patch(Polygon(e_bridge, fc='black', ec='black', lw=1.5, zorder=2))
for el in ((323, 328, 12, 12), (320, 372, 10, 14)):
    axE.add_patch(Ellipse(el[:2], el[2], el[3], fc='white', lw=0, zorder=3))
for poly, grid, xs, ys in ((e_top_poly, e_top, e_top_xs, e_top_ys), (e_low_poly, e_low, e_low_xs, e_low_ys)):
    v, c = curve(poly, closed=True)
    fillp = PathPatch(Path(v, c), fc='white', ec='none', zorder=3)
    axE.add_patch(fillp)
    g = np.array(grid)
    ny, nx = g.shape
    dx, dy = (xs[1] - xs[0]) / (nx - 1), (ys[1] - ys[0]) / (ny - 1)
    im = axE.imshow(g, extent=(xs[0] - dx / 2, xs[1] + dx / 2, ys[1] + dy / 2, ys[0] - dy / 2), origin='upper', cmap='gray', vmin=0, vmax=1,
                    interpolation='bicubic', aspect='auto', zorder=4)
    im.set_clip_path(fillp)
    axE.add_patch(PathPatch(Path(v, c), fc='none', ec='black', lw=3, zorder=5))
axE.set_xlim(*E_LIM[0]); axE.set_ylim(*E_LIM[1])
log_ticks(axE, [155, 245, 335, 470, 585, 700])
log_ticks(axE, [490, 415, 298, 180, 68], axis='y')
e_rings = [((255, 437, 145, 60, 0), 'white'), ((255, 437, 105, 48, 0), '#555555'), ((255, 437, 72, 38, 0), 'white'), ((255, 437, 46, 27, 0), 'white'),
           ((490, 398, 130, 58, -55), 'white')]
for (cx, cy, w, h, a), ec in e_rings:
    axE.add_patch(Ellipse((cx, cy), w, h, angle=a, fc='none', ec=ec, lw=.9, zorder=6))
axE.add_patch(Ellipse((255, 437), 18, 12, fc='#444444', lw=0, zorder=6))
axE.add_patch(Ellipse((475, 427), 8, 8, fc='white', ec='black', lw=2, zorder=6))
axE.add_patch(Ellipse((520, 368), 16, 40, angle=15, fc='#333333', lw=0, zorder=6, alpha=.7))
axE.add_patch(Rectangle((192, 165), 245, 163, fc='none', ec='#333333', lw=.9, zorder=7))
axE.add_patch(Rectangle((435, 285), 140, 209, fc='none', ec='#333333', lw=.9, zorder=7))

# ---------- F
F_LIM = ((100, 553), (713, 210))
axF = panel(33, 640, 184, 808, xlim=F_LIM[0], ylim=F_LIM[1], edge='#555555')
axF.spines['right'].set_color('#cc9999')
axF.scatter(f_orange_x, f_orange_y, s=2.0, color='#f8b25c', lw=0, zorder=1)
density(axF, f_col, f_col_xs, f_col_ys, '#f8b25c', 1)
axF.scatter(f_red_x, f_red_y, s=1.6, color='#f47c7c', lw=0, zorder=2)
density(axF, f_topr, f_topr_xs, f_topr_ys, '#f47c7c', 2)
density(axF, f_topb, f_topb_xs, f_topb_ys, '#2a86e0', 3)
axF.scatter(f_blue_x, f_blue_y, s=1.6, color='#2a86e0', lw=0, zorder=3)
density(axF, f_lowb, f_lowb_xs, f_lowb_ys, '#1f86e3', 4)
density(axF, f_lowo, f_lowo_xs, f_lowo_ys, '#f9a93f', 4)
axF.set_xlim(*F_LIM[0]); axF.set_ylim(*F_LIM[1])
log_ticks(axF, [165, 285, 405, 510, 630])
log_ticks(axF, [620, 507, 375, 258], axis='y')
axF.add_patch(Ellipse(f_gate_pink[:2], f_gate_pink[2], f_gate_pink[3], fc='none', ec='#d68f8c', lw=2.2, ls=(0, (3.2, 1.5)), zorder=6))
axF.add_patch(Ellipse(f_gate_navy[:2], f_gate_navy[2], f_gate_navy[3], fc='none', ec='#2c4f80', lw=2.2, ls=(0, (3.2, 1.5)), zorder=7))
axFt = panel(33, 590, 184, 640, ylim=(0, 50))
axFt.axis('off')
for x, h, c, z, s in ((ft_bx, ft_bh, 'b', 1, False), (ft_rx, ft_rh, 'r', 2, False), (ft_ox, ft_oh, 'o', 3, True)):
    ridge(axFt, x, h, 0, C[c], z, smooth=s)
axFr = panel(184, 640, 229, 808, xlim=(0, 45))
axFr.axis('off')
for y, h, c, z, s in ((fr_by, fr_bh, 'b', 2, True), (fr_ry, fr_rh, 'r', 1, False), (fr_cy, fr_ch, 'b', 3, True), (fr_oy, fr_oh, 'o', 4, True)):
    ridge(axFr, y, h, 0, C[c], z, vertical=True, smooth=s)

# ---------- Overlay in pixels: heatmap, labels, legends, arrows
ov = fig.add_axes([0, 0, 1, 1], zorder=10)
ov.set_xlim(0, W); ov.set_ylim(H, 0); ov.axis('off'); ov.patch.set_alpha(0)


def T(x, y, s, size=11.3, weight='bold', ha='left', color='black', rot=0, **kw):
    ov.text(x, y, s, fontsize=size, fontweight=weight, ha=ha, va='center', color=color, rotation=rot, **kw)


def V(x, y0, y1, lw=1.3, color='black'):
    ov.plot([x, x], [y0, y1], color=color, lw=lw, solid_capstyle='butt')


def swatch(x, y0, y1, w, color):
    ov.add_patch(Rectangle((x, y0), w, y1 - y0, fc=color, ec='none'))


def arrow(x0, x1, y, color):
    ov.annotate('', xy=(x1, y), xytext=(x0, y), arrowprops=dict(arrowstyle='-|>,head_width=.38,head_length=.7', color=color, lw=1.8, shrinkA=0, shrinkB=0))


def box(x0, y0, x1, y1, color, lw):
    ov.add_patch(Rectangle((x0, y0), x1 - x0, y1 - y0, fc='none', ec=color, lw=lw, zorder=6))


cmH = LinearSegmentedColormap.from_list('h', [(0, '#5fa9f6'), (.115, '#6fb3f8'), (.30, '#ffffff'), (.49, '#e89c9c'), (.68, '#da5050'), (.87, '#c81212'), (1, '#c00000')])
normH = Normalize(-1.62, 3.72)
EDGE = '#2a3440'
for grp, (x0, x1), col, cellc in zip(hm_groups, group_x, range(8), cell_colors):
    n = len(grp[0])
    xe = np.linspace(x0, x1, n + 1)
    for (r0, r1), (y0, y1) in zip(block_rows, block_y):
        ye = np.linspace(y0, y1, r1 - r0 + 1)
        vals = np.array([row for row in grp[r0:r1]])
        ov.pcolormesh(xe, ye, vals, cmap=cmH, norm=normH, edgecolors='face', linewidth=0)
        ov.vlines(xe[1:-1], y0, y1, color=EDGE, lw=.85)
        ov.hlines(ye[1:-1], x0, x1, color=EDGE, lw=.85)
        ov.add_patch(Rectangle((x0, y0), x1 - x0, y1 - y0, fc='none', ec='#3a4046', lw=1.0))
    black = col >= 5
    top = '#000000' if black else '#d3d3d3'
    for (ya, yb), fc, lines in (((576, 593), top, not black), ((596, 613), cellc, True)):
        ov.add_patch(Rectangle((x0, ya), x1 - x0, yb - ya, fc=fc, ec='#3a4046', lw=1.0))
        if lines:
            ov.vlines(xe[1:-1], ya, yb, color='#3a4046', lw=.8)
yc = []
for (r0, r1), (y0, y1) in zip(block_rows, block_y):
    step = (y1 - y0) / (r1 - r0)
    yc += [y0 + step * (i + .5) for i in range(r1 - r0)]
for g, y in zip(hm_genes, yc):
    T(1155, y, g, size=8.5, weight='normal', color='#333333')


def U(x, y0, y1, x0end, x1end):
    ov.plot([x0end, x, x, x1end], [y0, y0, y1, y1], color='#333333', lw=.9)
    return (y0 + y1) / 2


n23 = U(475, yc[2], yc[3], 479, 479)
n123 = U(472, yc[1], n23, 479, 475)
n0123 = U(466, yc[0], n123, 479, 472)
n45 = U(466, yc[4], yc[5], 479, 479)
n5 = U(462, n0123, n45, 466, 466)
n67 = U(468, yc[6], yc[7], 479, 479)
n89 = U(470, yc[8], yc[9], 479, 479)
n810 = U(466, n89, yc[10], 470, 479)
n610 = U(461, n67, n810, 468, 466)
U(455, n5, n610, 462, 461)

box(1063, 662, 1249, 719, '#8f3a3f', 2.2)
box(880, 801, 1190, 828, '#ee1111', 3.2)
box(1069, 832, 1237, 859, '#1f3a66', 2.2)
box(1067, 881, 1212, 910, '#8f3a3f', 2.2)
T(1243, 729, 'pDC', size=11, color='#93343a')
T(1233, 869, 'mDC', size=11, color='#1f3f6e')
T(1215, 917, 'pDC', size=11, color='#93343a')
T(1155, 605, 'Cell_Type', size=12)
T(820, 503.5, 'DC comparison with Immgen', size=15.8, ha='center')
T(826, 545, 'public available data (Immgen)', size=12.2, weight='normal', ha='center', color='#222222')
T(1116, 530.5, 'sorted', size=12.3, weight='normal', ha='center', color='#222222')
T(1116, 551, 'populations', size=12.3, weight='normal', ha='center', color='#222222')
ov.plot([479, 1068], [560, 560], color='#444444', lw=2.6, solid_capstyle='butt')
for i, (name, c) in enumerate(zip(cell_types, cell_colors)):
    ov.add_patch(Rectangle((1301, 545 + 21.1 * i), 21.3, 21.1, fc=c, ec='#333333', lw=1.1))
    T(1327, 556 + 21.1 * i, name, size=10.7, weight='normal', color='#333333')
caxH = fig.add_axes([1307 / W, 1 - 902 / H, 10 / W, 155 / H], zorder=11)
cbH = fig.colorbar(ScalarMappable(normH, cmH), cax=caxH, ticks=[-1, 0, 1, 2, 3])
cbH.ax.set_yticklabels(['\u22121', '0', '1', '2', '3'], fontsize=7.5, color='#444444')
cbH.ax.tick_params(length=0, pad=4)
cbH.outline.set_visible(False)
T(1293, 828, 'relative abundance', size=11.3, ha='center', rot=90)

# panel letters and titles
for (x, y, s) in ((1, 16, 'A'), (398, 15, 'B'), (979, 15, 'C'), (2, 262, 'D'), (522, 262, 'E'), (1, 589, 'F')):
    T(x, y, s, size=17, weight='normal')
T(18, 35.5, 'Frequencies of cells per clusters', size=15.6, weight='normal')
T(550, 261.5, 'Supervised re-analysis', size=15.6, weight='normal')
T(156, 584.5, 'Sorting for RNAseq', size=15.5, weight='normal')

# A labels
swatch(110, 76, 101, 17, '#e8298c')
swatch(110, 105, 127, 17, '#2ca02c')
T(77, 89, 'pDC', size=10.5, ha='center')
T(76, 115, 'mDC', size=10.5, ha='center')
for s, y in zip(a_rows, (83, 96, 111, 124)):
    T(241, y, s, size=8.8)
for s, x in zip(a_cols, (142, 167, 193, 221)):
    T(x, 140, s, size=8.5, ha='center')
ov.plot([134, 231], [150, 150], color='#222222', lw=1.6)
T(183, 167, '0QZW', size=12.5, weight='normal', ha='center', color='#222222')
T(272, 130, 'relative abundance', size=11.3, ha='center', rot=90)

# axis captions
for x, y, s in ((491, 194.5, 'CD123'), (663, 194.5, 'CD11c'), (1083, 197.5, 'HLA-DR'), (1084, 384.5, 'CD4'), (111, 490.5, 'CD4'), (655, 459.5, 'CD123'), (104, 831.5, 'CD4')):
    T(x, y, s, size=11, ha='center')
T(14, 394, 'HLA-DR', size=11, ha='center', rot=90)
T(556, 362, 'CD11c', size=11, ha='center', rot=90)
T(7, 722, 'HLA-DR', size=11, ha='center', rot=90)

# legends with brackets
leg_names = ['cluster 64', 'cluster 59', 'cluster 67', 'cluster 53']
leg_cols = [SW_O, SW_LB, SW_B, SW_R]
for s, c, (y0, y1), ty in zip(leg_names, leg_cols, ((43, 68), (79, 103), (114, 139), (152, 176)), (52.5, 88.5, 124.5, 161.5)):
    swatch(779, y0, y1, 14, c)
    T(802, ty, s)
V(885, 46, 90); V(885, 112, 132); V(885, 150, 172)
T(896, 66.5, 'mDCs'); T(894, 122.5, 'pDCs'); T(897, 161.5, 'basophiles')

for s, c, (y0, y1), ty in zip(['CD4', 'monocytes'] + leg_names, ['#12a35a', '#92d050'] + leg_cols,
                              ((95, 119), (131, 156), (167, 192), (203, 228), (239, 264), (276, 300)), (104.5, 141.5, 177.5, 213.5, 246.5, 285.5)):
    swatch(1203, y0, y1, 14, c)
    T(1227, ty, s)
V(1307, 170, 218); V(1307, 238, 258); V(1307, 275, 295)
T(1317, 192.5, 'mDCs'); T(1317, 245.5, 'pDCs'); T(1317, 285.5, 'basophiles')

for s, c, (y0, y1), ty in zip(['CD4', 'monocytes'] + leg_names, ['#12a35a', '#92d050'] + leg_cols,
                              ((282, 306), (318, 343), (355, 380), (391, 416), (428, 452), (464, 488)), (292.5, 329.5, 365.5, 401.5, 437.5, 473.5)):
    swatch(288, y0, y1, 14, c)
    T(311, ty, s)
V(389, 365, 406); V(389, 428, 446); V(389, 463, 482)
T(402, 383.5, 'mDCs'); T(402, 434.5, 'pDCs'); T(402, 473.5, 'basophiles')

for s, c, (y0, y1), ty in zip(['CD4 T cells', 'pDCs', 'mDCs'], [SW_O, SW_B, SW_R], ((792, 816), (832, 856), (869, 892)), (801.5, 840.5, 877.5)):
    swatch(268, y0, y1, 10, c)
    T(289, ty, s)

# E and F annotations
arrow(680, 829, 342, '#d99a97')
arrow(712, 811, 417, '#2f5f9a')
T(843, 338.5, 'mDC'); T(819, 412.5, 'pDC and'); T(819, 431.5, 'basophiles')
arrow(120, 373, 663, '#d99a97')
arrow(145, 399, 707, '#2f5f9a')
T(247, 627.5, 'CD11c+CD123-'); T(247, 646.5, 'CD4+HLA-DR+')
T(247, 719.5, 'CD123+CD11c-'); T(247, 738.5, 'CD4+HLA-DR+')

fig.savefig('out.png', dpi=100, facecolor='white')
